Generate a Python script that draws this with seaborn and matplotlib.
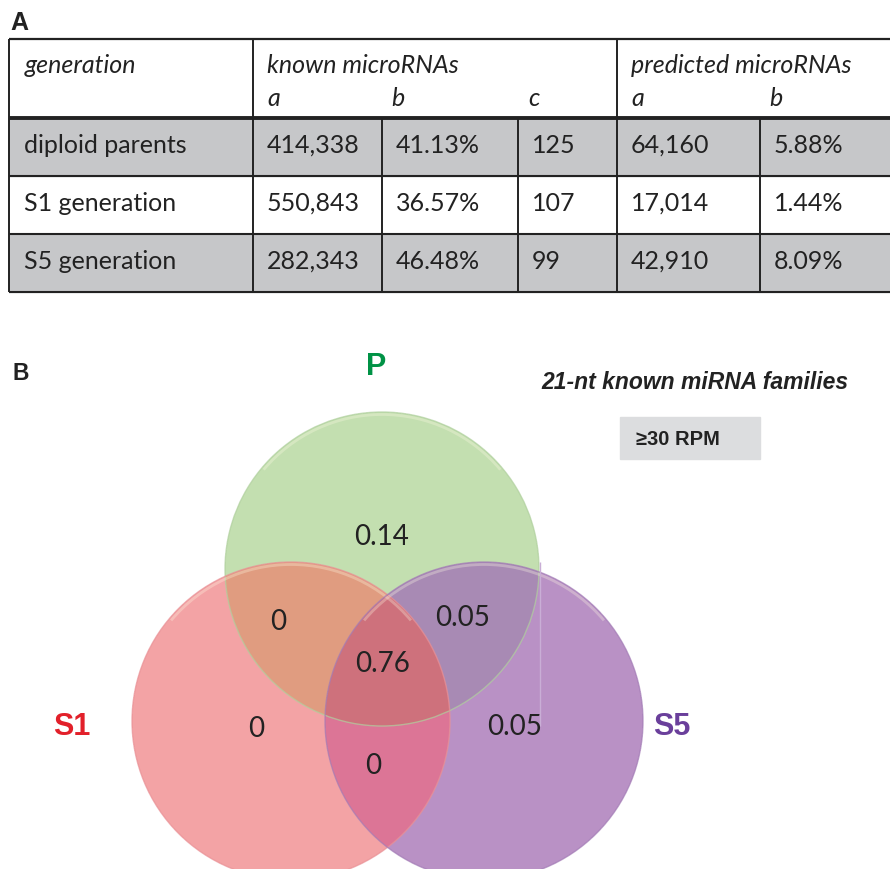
import numpy as np
import matplotlib
matplotlib.use("Agg")
import matplotlib.pyplot as plt
from matplotlib.patches import Rectangle, Circle, Arc
import seaborn as sns

# ---- panel A: table data ----
generations = ["diploid parents", "S1 generation", "S5 generation"]
known_a = ["414,338", "550,843", "282,343"]
known_b = ["41.13%", "36.57%", "46.48%"]
known_c = ["125", "107", "99"]
pred_a = ["64,160", "17,014", "42,910"]
pred_b = ["5.88%", "1.44%", "8.09%"]

# ---- panel B: venn data ----
set_labels = ["P", "S1", "S5"]
set_colors = ["#009245", "#e2202a", "#6a3f9b"]
region_names = ["P", "P&S1", "P&S5", "P&S1&S5", "S1", "S5", "S1&S5"]
region_values = [0.14, 0, 0.05, 0.76, 0, 0.05, 0]

sns.set_theme(style="white")
plt.rcParams["font.family"] = ["Lato", "DejaVu Sans"]

fig = plt.figure(figsize=(8.9, 8.7), dpi=100)
ax = fig.add_axes([0, 0, 1, 1])
ax.set_xlim(0, 890)
ax.set_ylim(870, 0)
ax.axis("off")

txt = "#222222"
arial = ["Liberation Sans", "DejaVu Sans"]

# ---------------- table ----------------
ax.text(10, 30, "A", fontsize=18, fontweight="bold", family=arial, color=txt)

col_x = [9, 253, 382, 518, 617, 760, 890]
row_y = [40, 119, 177, 235, 293]
gray = "#c6c7c9"
for i in [0, 2]:
    ax.add_patch(Rectangle((col_x[0], row_y[i + 1]), col_x[-1] - col_x[0],
                           row_y[i + 2] - row_y[i + 1], color=gray, zorder=1))

ax.hlines(row_y[0], col_x[0], 890, color=txt, lw=1.6, zorder=3)
ax.hlines(row_y[1], col_x[0], 890, color=txt, lw=2.8, zorder=3)
ax.hlines(row_y[2:], col_x[0], 890, color=txt, lw=1.5, zorder=3)
# header verticals
ax.vlines([col_x[0], col_x[1], col_x[4]], row_y[0], row_y[1], color=txt, lw=1.4, zorder=3)
# body verticals
ax.vlines(col_x[:-1], row_y[1], row_y[-1], color=txt, lw=1.4, zorder=3)

fs = 18
ax.text(25, 73, "generation", fontsize=fs, style="italic", color=txt, zorder=4)
ax.text(267, 73, "known microRNAs", fontsize=fs, style="italic", color=txt, zorder=4)
ax.text(631, 73, "predicted microRNAs", fontsize=fs, style="italic", color=txt, zorder=4)
for x, s in zip([267, 391, 528, 631, 769], ["a", "b", "c", "a", "b"]):
    ax.text(x, 106, s, fontsize=fs, style="italic", color=txt, zorder=4)

baselines = [153, 211, 269]
columns = [generations, known_a, known_b, known_c, pred_a, pred_b]
for j, col in enumerate(columns):
    x = col_x[j] + (15 if j == 0 else 14)
    for yb, val in zip(baselines, col):
        ax.text(x, yb, val, fontsize=fs, color=txt, va="baseline", zorder=4)

# ---------------- venn ----------------
ax.text(12, 380, "B", fontsize=16.5, fontweight="bold", family=arial, color=txt)

centers = {"P": (382, 570), "S1": (291, 722), "S5": (484, 722)}
radius = {"P": 157, "S1": 159, "S5": 159}
region_rgb = {
    0: "#ffffff",
    1: "#c3dfb0",  # P
    2: "#f4a3a5",  # S1
    4: "#b992c5",  # S5
    3: "#e09c80",  # P&S1
    5: "#a88ab4",  # P&S5
    6: "#dc7596",  # S1&S5
    7: "#cf717d",  # all
}
lut = np.array([matplotlib.colors.to_rgb(region_rgb[k]) for k in range(8)])

x0, x1, y0, y1 = 100, 700, 400, 870
ss = 3
gx = x0 + (np.arange((x1 - x0) * ss) + 0.5) / ss
gy = y0 + (np.arange((y1 - y0) * ss) + 0.5) / ss
GX, GY = np.meshgrid(gx, gy)
code = np.zeros(GX.shape, dtype=int)
for bit, name in zip([1, 2, 4], set_labels):
    cx, cy = centers[name]
    code += bit * (((GX - cx) ** 2 + (GY - cy) ** 2) <= radius[name] ** 2)
rgb = lut[code]
h, w = y1 - y0, x1 - x0
rgb = rgb.reshape(h, ss, w, ss, 3).mean(axis=(1, 3))
ax.imshow(rgb, extent=(x0, x1, y1, y0), interpolation="nearest", zorder=1, aspect="auto")

edge_cols = {"P": "#b0d09e", "S1": "#e99196", "S5": "#a37cb6"}
for name in set_labels:
    ax.add_patch(Circle(centers[name], radius[name], fill=False,
                        ec=edge_cols[name], lw=1.0, alpha=0.7, zorder=2))
    ax.add_patch(Arc(centers[name], 2 * radius[name] - 5, 2 * radius[name] - 5,
                     theta1=220, theta2=320, color="#fffbe6", lw=2.0, alpha=0.3, zorder=2))
# faint bounding edge of the P shape
ax.vlines(540, 563, 727, color="#c9aed6", lw=1.0, zorder=2)

label_pos = {"P": (376, 367), "S1": (72, 727), "S5": (672, 727)}
for name, c in zip(set_labels, set_colors):
    ax.text(*label_pos[name], name, fontsize=22, fontweight="bold", family=arial,
            color=c, ha="center", va="center", zorder=5)

value_pos = {"P": (382, 537), "P&S1": (278, 622), "P&S5": (463, 618),
             "P&S1&S5": (383, 664), "S1": (256, 729), "S5": (515, 727),
             "S1&S5": (373, 766)}
for name, v in zip(region_names, region_values):
    ax.text(*value_pos[name], f"{v:g}", fontsize=20, color=txt,
            ha="center", va="center", zorder=5)

ax.text(695, 383, "21-nt known miRNA families", fontsize=16.5, fontweight="bold",
        style="italic", family=arial, color=txt, ha="center", va="center", zorder=5)
ax.add_patch(Rectangle((620, 418), 140, 42, color="#dcdddf", zorder=4))
ax.text(636, 440, "≥30 RPM", fontsize=14.5, fontweight="bold", family=arial,
        color=txt, ha="left", va="center", zorder=5)

fig.savefig("out.png", dpi=100)
